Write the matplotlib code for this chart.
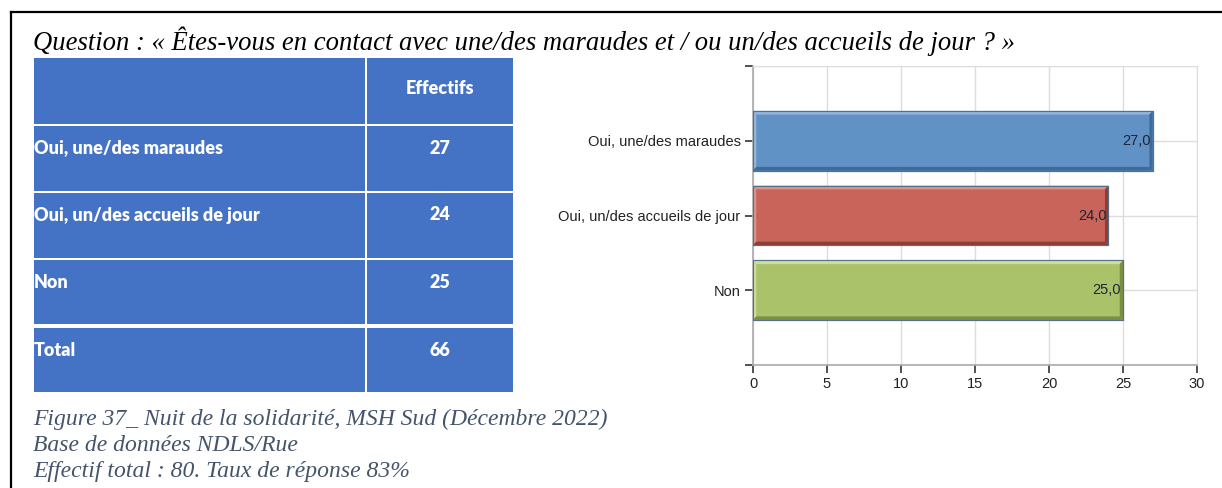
import matplotlib.pyplot as plt
import matplotlib as mpl
from matplotlib.patches import Rectangle, Polygon

# ---- data ----
categories = ['Oui, une/des maraudes', 'Oui, un/des accueils de jour', 'Non']
values = [27, 24, 25]
table_rows = ['Oui, une/des maraudes', 'Oui, un/des accueils de jour', 'Non', 'Total']
table_counts = [27, 24, 25, 66]
table_header = 'Effectifs'
x_ticks = [0, 5, 10, 15, 20, 25, 30]

title = 'Question : « Êtes-vous en contact avec une/des maraudes et / ou un/des accueils de jour ? »'
caption = ['Figure 37_ Nuit de la solidarité, MSH Sud (Décembre 2022)',
           'Base de données NDLS/Rue',
           'Effectif total : 80. Taux de réponse 83%']

# face, light bevel, dark bevel
bar_colors = [('#6092C6', '#93B6DC', '#3F6B9B'),
              ('#C9645B', '#DE928B', '#8C3E37'),
              ('#AAC36B', '#CDDD9E', '#7A8F45')]

W, H = 1222, 488
fig = plt.figure(figsize=(W / 100, H / 100), dpi=100)

# page layer in pixel coords
page = fig.add_axes([0, 0, 1, 1])
page.set_xlim(0, W)
page.set_ylim(H, 0)
page.axis('off')

page.plot([11, W], [12, 12], color='black', lw=1.6)
page.plot([11, 11], [12, H], color='black', lw=1.6)

page.text(33, 50, title, family='Liberation Serif', style='italic', fontsize=19.2,
          color='black', va='baseline')

cap_y = [425, 451, 477]
for txt, y in zip(caption, cap_y):
    page.text(33, y, txt, family='Liberation Serif', style='italic', fontsize=17,
              color='#44546A', va='baseline')

# table
blue = '#4472C4'
col_x = [(34, 365), (367, 513)]
row_y = [(58, 124), (126, 191), (193, 258), (260, 324), (328, 392)]
for (y0, y1) in row_y:
    for (x0, x1) in col_x:
        page.add_patch(Rectangle((x0, y0), x1 - x0, y1 - y0, facecolor=blue,
                                 edgecolor='none'))

tfont = dict(family='Lato', fontweight='heavy', color='white', fontsize=13)
page.text(440, 88, table_header, ha='center', va='center', **tfont)
for i, (lab, n) in enumerate(zip(table_rows, table_counts)):
    y0 = row_y[i + 1][0]
    page.text(34, y0 + 22, lab, ha='left', va='center', **tfont)
    page.text(440, y0 + 22, str(n), ha='center', va='center', **tfont)

# ---- bar chart ----
ax = fig.add_axes([753 / W, 1 - 365 / H, (1197 - 753) / W, (365 - 66) / H])
pos = list(range(len(categories)))
bh = 0.8
ax.barh(pos, values, height=bh, color=[c[0] for c in bar_colors],
        edgecolor='#5A6F86', linewidth=0.8, zorder=3)

# bevel edges
bx = 0.22
by = 0.05
for p, v, (face, light, dark) in zip(pos, values, bar_colors):
    top, bot = p - bh / 2, p + bh / 2
    ax.add_patch(Polygon([(0, top), (v, top), (v - bx, top + by), (bx, top + by)],
                         closed=True, facecolor=light, edgecolor='none', zorder=4))
    ax.add_patch(Polygon([(0, top), (bx, top + by), (bx, bot - by), (0, bot)],
                         closed=True, facecolor=light, edgecolor='none', zorder=4))
    ax.add_patch(Polygon([(0, bot), (bx, bot - by), (v - bx, bot - by), (v, bot)],
                         closed=True, facecolor=dark, edgecolor='none', zorder=4))
    ax.add_patch(Polygon([(v, top), (v, bot), (v - bx, bot - by), (v - bx, top + by)],
                         closed=True, facecolor=dark, edgecolor='none', zorder=4))
    ax.add_patch(Rectangle((0, top), v, bh, facecolor='none', edgecolor='#5A6F86',
                           lw=0.8, zorder=5))
    ax.text(v - 0.12, p, f'{v:.1f}'.replace('.', ','), ha='right', va='center',
            fontsize=10.5, family='Liberation Sans', color='#1E2633', zorder=6)

ax.set_xlim(0, 30)
ax.set_ylim(3, -1)
ax.set_xticks(x_ticks)
ax.set_xticklabels([str(t) for t in x_ticks])
ax.set_yticks([-1] + pos + [3])
ax.set_yticklabels([''] + categories + [''])
for lab in ax.get_xticklabels() + ax.get_yticklabels():
    lab.set_family('Liberation Sans')
    lab.set_fontsize(10.5)
    lab.set_color('#222222')

ax.tick_params(axis='both', direction='out', length=6, width=1.2, color='#333333', pad=3)
ax.grid(True, color='#DDDDDD', linewidth=1, zorder=0)
ax.set_axisbelow(True)
for s in ['top', 'right']:
    ax.spines[s].set_color('#DDDDDD')
for s in ['left', 'bottom']:
    ax.spines[s].set_color('#AAAAAA')
    ax.spines[s].set_linewidth(1.2)

fig.savefig('out.png', dpi=100)
